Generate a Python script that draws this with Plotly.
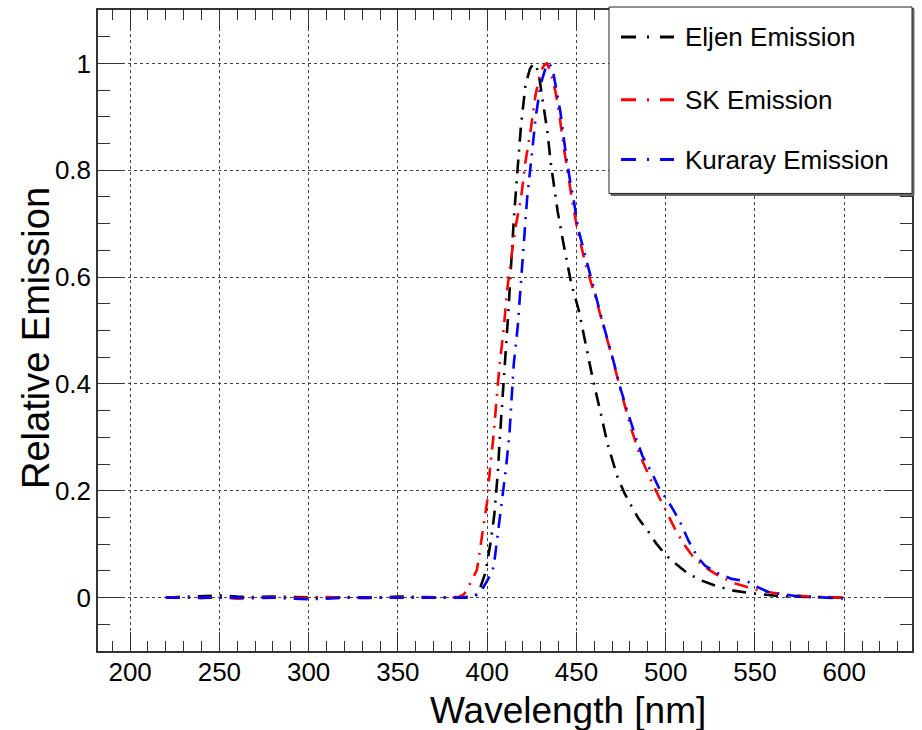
import plotly.graph_objects as go

# ---------------- data ----------------
eljen_x = [220, 230, 240, 250, 260, 270, 280, 290, 300, 310, 320, 330, 340, 350, 360, 370, 380,
           388, 392, 395, 397, 399, 400.9, 402, 404, 406, 407, 408.5, 410, 411.2, 412, 413, 414, 415,
           417, 419, 421.5, 424, 426, 427.5, 429, 431.7, 434, 435.5, 437.3, 439.5, 442.5, 445,
           447, 451.4, 455, 459, 463.5, 467.5, 473, 477, 481, 485, 490, 495, 500, 505, 512, 520,
           529, 538, 548, 557, 566, 580, 590, 600]
eljen_y = [0.0, 0.001, 0.002, 0.004, 0.002, 0.001, 0.002, 0.001, 0.001, 0.0, 0.001, 0.001, 0.0, 0.002, 0.001, 0.001, 0.0,
           0.001, 0.002, 0.008, 0.027, 0.046, 0.083, 0.105, 0.155, 0.235, 0.294, 0.363, 0.43, 0.49, 0.54, 0.6, 0.66, 0.711,
           0.80, 0.885, 0.96, 0.99, 1.0, 0.995, 0.978, 0.922, 0.866, 0.817, 0.775, 0.723, 0.667, 0.62,
           0.59, 0.537, 0.475, 0.412, 0.347, 0.287, 0.226, 0.195, 0.17, 0.147, 0.125, 0.1, 0.08, 0.065, 0.046, 0.032,
           0.021, 0.013, 0.008, 0.005, 0.002, 0.001, 0.001, 0.0]

sk_x = [220, 230, 240, 250, 260, 270, 280, 290, 300, 310, 320, 330, 340, 350, 360, 370, 380,
        384, 387, 390.6, 394.3, 397.1, 400, 401.5, 403.7, 405.2, 407, 409.3, 411, 413, 415.8, 419,
        421.5, 424.3, 427.1, 429.9, 432, 433.5, 435.5, 438.3, 440.2, 443, 445, 447.7, 450.5, 455,
        460.7, 465.4, 470, 474.8, 477, 480.4, 486, 493.5, 501, 505, 510, 515, 521.5, 530, 538.4,
        545, 551.5, 560, 568, 580, 590, 600]
sk_y = [0.0, 0.001, -0.001, 0.001, -0.002, 0.0, 0.001, -0.001, 0.0, 0.001, 0.0, -0.001, 0.0, 0.001, 0.0, 0.0, 0.001,
        0.001, 0.006, 0.027, 0.052, 0.114, 0.18, 0.238, 0.307, 0.369, 0.437, 0.503, 0.57, 0.624, 0.692, 0.748,
        0.817, 0.873, 0.941, 0.985, 0.997, 1.0, 0.985, 0.947, 0.91, 0.841, 0.798, 0.742, 0.69, 0.625,
        0.562, 0.506, 0.45, 0.388, 0.36, 0.319, 0.263, 0.207, 0.157, 0.13, 0.101, 0.078, 0.058, 0.04, 0.027,
        0.02, 0.014, 0.009, 0.005, 0.002, 0.001, 0.0]

kuraray_x = [220, 230, 240, 250, 260, 270, 280, 290, 300, 310, 320, 330, 340, 350, 360, 370, 380,
             390, 393, 395, 398, 401.8, 403.7, 405.6, 408.4, 410.6, 412.5, 413.6, 414.9, 417.1, 419.6,
             422.4, 425.2, 427.1, 429.9, 432.7, 435, 437.3, 441, 443.9, 446.7, 448.6, 451, 454.2, 457,
             461, 465.5, 470.2, 475, 478.5, 483.2, 487, 491.6, 497, 501, 505, 508.4, 513, 517.8, 522,
             529, 537, 545.9, 550, 557.1, 565, 575.8, 590, 600]
kuraray_y = [0.0, 0.0, 0.001, 0.0, 0.0, -0.001, 0.0, -0.002, -0.003, -0.002, 0.0, 0.0, 0.0, 0.0, 0.0, -0.001, -0.001,
             0.0, 0.002, 0.008, 0.02, 0.042, 0.058, 0.108, 0.176, 0.244, 0.307, 0.369, 0.437, 0.506, 0.624,
             0.748, 0.835, 0.897, 0.96, 0.991, 1.0, 0.978, 0.91, 0.835, 0.775, 0.742, 0.69, 0.649, 0.615,
             0.562, 0.506, 0.45, 0.388, 0.35, 0.3, 0.265, 0.238, 0.2, 0.183, 0.16, 0.139, 0.105, 0.076, 0.06,
             0.046, 0.035, 0.03, 0.022, 0.011, 0.006, 0.002, 0.0, -0.002]

series_names = ["Eljen Emission", "SK Emission", "Kuraray Emission"]
series_colors = ["black", "#ff0000", "#0000ff"]

x_ticks = [200, 250, 300, 350, 400, 450, 500, 550, 600]
y_ticks = [0, 0.2, 0.4, 0.6, 0.8, 1]
y_tick_labels = ["0", "0.2", "0.4", "0.6", "0.8", "1"]

FONT = "Liberation Sans, Arial, Helvetica, sans-serif"
DASH = "14px,8px,2px,8px"

# ---------------- figure ----------------
W, H = 922, 730
L, R, T, B = 98, 10, 8, 79
PW, PH = W - L - R, H - T - B

fig = go.Figure()
for xs, ys, name, col in zip([eljen_x, sk_x, kuraray_x], [eljen_y, sk_y, kuraray_y],
                             series_names, series_colors):
    fig.add_trace(go.Scatter(x=xs, y=ys, mode="lines", name=name, showlegend=False,
                             line=dict(color=col, width=2.6, dash=DASH)))


def px_x(p):
    return (p - L) / PW


def px_y(p):
    return (H - B - p) / PH


axis_common = dict(showline=True, linecolor="#333", linewidth=1.5, mirror="ticks",
                   ticks="inside", tickcolor="#333", tickwidth=1,
                   showgrid=True, gridcolor="#444", gridwidth=1, griddash="dot",
                   zeroline=False)

fig.update_xaxes(range=[182, 638], tickvals=x_ticks, ticklen=19,
                 tickfont=dict(family=FONT, size=26, color="black"),
                 minor=dict(dtick=10, tick0=200, ticklen=10, ticks="inside", tickcolor="#333", showgrid=False),
                 ticklabelstandoff=-3, **axis_common)
fig.update_yaxes(range=[-0.1, 1.1], tickvals=y_ticks, ticktext=y_tick_labels, ticklen=25,
                 tickfont=dict(family=FONT, size=26, color="black"),
                 minor=dict(dtick=0.05, tick0=0, ticklen=12, ticks="inside", tickcolor="#333", showgrid=False),
                 ticklabelstandoff=0, **axis_common)

shapes = []
annotations = []

# legend box (with slight shadow)
shapes.append(dict(type="rect", xref="paper", yref="paper",
                   x0=px_x(611), x1=px_x(914), y0=px_y(194), y1=px_y(7),
                   line=dict(color="#666", width=1), fillcolor="#666", layer="above"))
shapes.append(dict(type="rect", xref="paper", yref="paper",
                   x0=px_x(609), x1=px_x(912), y0=px_y(192), y1=px_y(5),
                   line=dict(color="#222", width=1), fillcolor="white", layer="above"))
leg_y = [35, 98, 158]
for name, col, yy in zip(series_names, series_colors, leg_y):
    shapes.append(dict(type="line", xref="paper", yref="paper",
                       x0=px_x(621), x1=px_x(674), y0=px_y(yy), y1=px_y(yy),
                       line=dict(color=col, width=3, dash="15px,11px,2px,11px"), layer="above"))
    annotations.append(dict(text=name, xref="paper", yref="paper", x=px_x(683), y=px_y(yy),
                            xanchor="left", yanchor="middle", showarrow=False,
                            font=dict(family=FONT, size=26, color="black")))

# axis titles
annotations.append(dict(text="Wavelength [nm]", xref="paper", yref="paper",
                        x=px_x(568), y=px_y(711), xanchor="center", yanchor="middle",
                        showarrow=False, font=dict(family=FONT, size=37, color="black")))
annotations.append(dict(text="Relative Emission", xref="paper", yref="paper",
                        x=px_x(36), y=px_y(337), xanchor="center", yanchor="middle",
                        textangle=-90, showarrow=False,
                        font=dict(family=FONT, size=38, color="black")))

fig.update_layout(width=W, height=H, margin=dict(l=L, r=R, t=T, b=B, pad=0),
                  paper_bgcolor="white", plot_bgcolor="white",
                  shapes=shapes, annotations=annotations, showlegend=False,
                  font=dict(family=FONT, color="black"))

fig.write_html("out.html")
